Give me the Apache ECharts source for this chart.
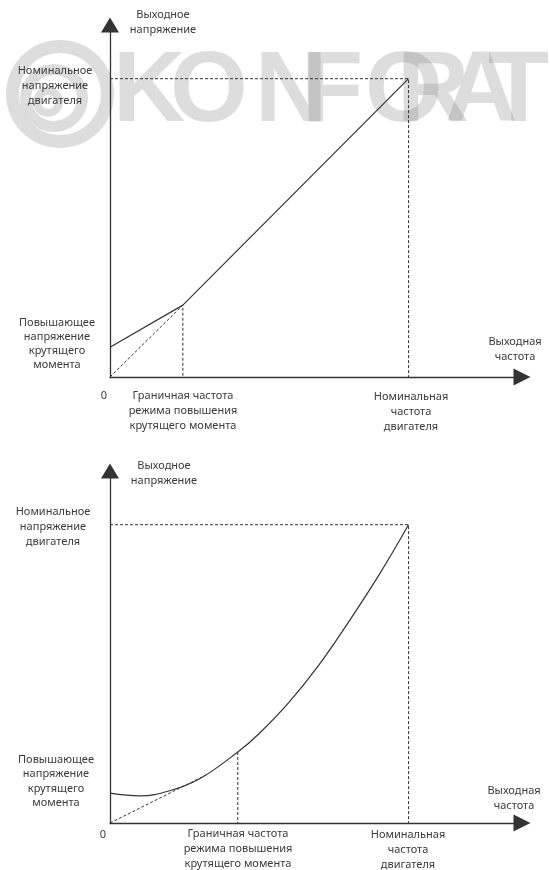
<!DOCTYPE html>
<html>
<head>
<meta charset="utf-8">
<title>U/f</title>
<script src="https://cdn.jsdelivr.net/npm/echarts/dist/echarts.min.js"></script>
<style>
  html, body { margin: 0; padding: 0; background: #fff; }
  #chart { width: 550px; height: 870px; }
</style>
</head>
<body>
<div id="chart"></div>
<script>
  // верхний график: линейная характеристика U/f (частота, % напряжения)
  const topFreq = [0, 12.2, 50];
  const topVolt = [10, 24.1, 100];
  const topGuideFreq = [0, 12.2, 12.2];
  const topGuideVolt = [0, 24.1, 0];

  // нижний график: квадратичная характеристика
  const botFreq = [0, 5, 10, 15, 21.4, 25, 30, 35, 40, 45, 50];
  const botVolt = [10, 9.1, 10.8, 14.8, 23.8, 30, 40.5, 53, 67.5, 83, 100];
  const botTangentFreq = [0, 16];
  const botTangentVolt = [0, 16];
  const botBreakFreq = [21.4, 21.4];
  const botBreakVolt = [23.8, 0];

  // номинальная точка, общая для обоих графиков
  const nominalFreq = [0, 50, 50];
  const nominalVolt = [100, 100, 0];

  const freqMax = 69;
  const voltMax = 118;

  const zip = (xs, ys) => xs.map((x, i) => [x, ys[i]]);

  const lineColor = '#333';
  const textColor = '#3a3a3a';
  const font = '"Noto Sans", "DejaVu Sans", sans-serif';

  function axisPair(gridIndex) {
    let base = {
      gridIndex: gridIndex,
      type: 'value',
      min: 0,
      axisTick: { show: false },
      axisLabel: { show: false },
      splitLine: { show: false }
    };
    return {
      x: Object.assign({}, base, {
        max: freqMax,
        axisLine: {
          show: true,
          symbol: ['none', 'triangle'],
          symbolSize: [17, 17],
          lineStyle: { color: lineColor, width: 1.3 }
        }
      }),
      y: Object.assign({}, base, {
        max: voltMax,
        axisLine: {
          show: true,
          symbol: ['none', 'triangle'],
          symbolSize: [18, 15],
          lineStyle: { color: lineColor, width: 1.3 }
        }
      })
    };
  }

  function lineSeries(idx, data, dashed, smooth) {
    return {
      type: 'line',
      xAxisIndex: idx,
      yAxisIndex: idx,
      data: data,
      showSymbol: false,
      symbol: 'none',
      smooth: smooth ? 0.4 : false,
      silent: true,
      z: 3,
      lineStyle: dashed
        ? { color: lineColor, width: 1, type: [3, 2] }
        : { color: lineColor, width: 1.2 }
    };
  }

  function label(text, x, y, lh) {
    return {
      type: 'text',
      x: x,
      y: y,
      z: 10,
      style: {
        text: text,
        font: '11px ' + font,
        fill: textColor,
        align: 'center',
        verticalAlign: 'middle',
        lineHeight: lh || 15
      }
    };
  }

  // водяной знак за верхним графиком
  const wmColor = 'rgba(128,128,128,0.27)';
  const wmLetters = [
    ['K', 113], ['O', 170], ['N', 255], ['F', 302],
    ['O', 365], ['R', 397], ['A', 445], ['T', 488]
  ];
  let watermark = [
    { type: 'ring', z: -5, shape: { cx: 60, cy: 94, r: 54, r0: 41 }, style: { fill: wmColor } },
    { type: 'ring', z: -5, shape: { cx: 54, cy: 98, r: 34, r0: 23 }, style: { fill: wmColor } },
    { type: 'ring', z: -5, shape: { cx: 48, cy: 102, r: 15, r0: 7 }, style: { fill: wmColor } }
  ];
  wmLetters.forEach(function (l) {
    watermark.push({
      type: 'text',
      x: l[1],
      y: 93.5,
      z: -5,
      style: {
        text: l[0],
        font: 'bold 100px "Liberation Sans", sans-serif',
        fill: wmColor,
        align: 'left',
        verticalAlign: 'middle'
      }
    });
  });

  const labels = [
    label('Выходное\nнапряжение', 163, 22.5),
    label('Номинальное\nнапряжение\nдвигателя', 55, 86),
    label('Повышающее\nнапряжение\nкрутящего\nмомента', 57, 344, 14),
    label('0', 104, 396),
    label('Граничная частота\nрежима повышения\nкрутящего момента', 183, 411),
    label('Выходная\nчастота', 515, 349.5),
    label('Номинальная\nчастота\nдвигателя', 411, 412),

    label('Выходное\nнапряжение', 164, 473),
    label('Номинальное\nнапряжение\nдвигателя', 53, 527),
    label('Повышающее\nнапряжение\nкрутящего\nмомента', 56, 781.5, 14.3),
    label('0', 103, 835),
    label('Граничная частота\nрежима повышения\nкрутящего момента', 238, 849),
    label('Выходная\nчастота', 514, 798.5),
    label('Номинальная\nчастота\nдвигателя', 408, 849.5)
  ];

  const ax0 = axisPair(0);
  const ax1 = axisPair(1);

  let myChart = echarts.init(document.getElementById('chart'), null, { renderer: 'canvas' });

  let option = {
    animation: false,
    backgroundColor: '#fff',
    grid: [
      { left: 110, top: 25, width: 412, height: 352 },
      { left: 110, top: 471, width: 412, height: 352 }
    ],
    xAxis: [ax0.x, ax1.x],
    yAxis: [ax0.y, ax1.y],
    graphic: watermark.concat(labels),
    series: [
      lineSeries(0, zip(nominalFreq, nominalVolt), true),
      lineSeries(0, zip(topGuideFreq, topGuideVolt), true),
      lineSeries(0, zip(topFreq, topVolt), false),

      lineSeries(1, zip(nominalFreq, nominalVolt), true),
      lineSeries(1, zip(botTangentFreq, botTangentVolt), true),
      lineSeries(1, zip(botBreakFreq, botBreakVolt), true),
      lineSeries(1, zip(botFreq, botVolt), false, true)
    ]
  };

  myChart.setOption(option);
  window.addEventListener('resize', () => myChart.resize(), false);
</script>
</body>
</html>
